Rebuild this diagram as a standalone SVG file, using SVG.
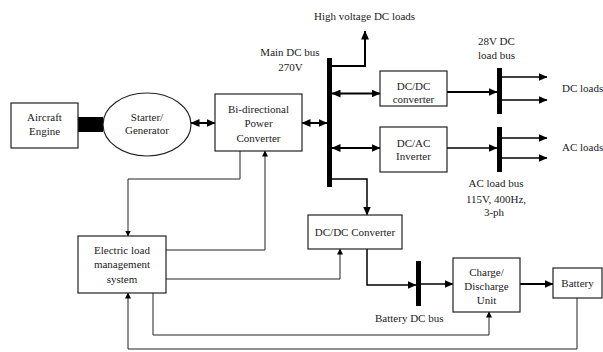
<svg xmlns="http://www.w3.org/2000/svg" width="603" height="352" viewBox="0 0 603 352">
<style>
  .box { fill: #fff; stroke: #222; stroke-width: 1.2; }
  .bus { fill: #000; }
  text { font-family: "Liberation Serif", "Times New Roman", serif; font-size: 11px; fill: #222; }
  .c { text-anchor: middle; }
  .thick { fill: none; stroke: #000; stroke-width: 2; }
  .med { fill: none; stroke: #000; stroke-width: 1.5; }
  .thin { fill: none; stroke: #222; stroke-width: 1; }
</style>
<defs>
  <marker id="ab" markerUnits="userSpaceOnUse" markerWidth="9" markerHeight="8" refX="8.5" refY="4" orient="auto-start-reverse">
    <path d="M0,0 L9,4 L0,8 z" fill="#000"/>
  </marker>
  <marker id="as" markerUnits="userSpaceOnUse" markerWidth="6" markerHeight="6" refX="5.5" refY="3" orient="auto">
    <path d="M0,0 L6,3 L0,6 z" fill="#000"/>
  </marker>
</defs>

<g id="connectors">
  <rect x="78" y="117" width="25" height="15" fill="#000"/>
  <line class="thick" x1="191" y1="123" x2="215" y2="123" marker-start="url(#ab)" marker-end="url(#ab)"/>
  <line class="thick" x1="302" y1="123" x2="327" y2="123" marker-start="url(#ab)" marker-end="url(#ab)"/>
  <line class="thick" x1="332" y1="93.5" x2="380" y2="93.5" marker-start="url(#ab)" marker-end="url(#ab)"/>
  <line class="thick" x1="332" y1="148" x2="380" y2="148" marker-start="url(#ab)" marker-end="url(#ab)"/>
  <path class="thick" d="M332,66 H365 V31" marker-end="url(#ab)"/>
  <line class="thick" x1="447" y1="92" x2="497" y2="92" marker-end="url(#ab)"/>
  <line class="med" x1="447" y1="148" x2="497" y2="148" marker-end="url(#ab)"/>
  <line class="med" x1="502" y1="77" x2="547" y2="77" marker-end="url(#ab)"/>
  <line class="med" x1="502" y1="100" x2="547" y2="100" marker-end="url(#ab)"/>
  <line class="med" x1="502" y1="138" x2="547" y2="138" marker-end="url(#ab)"/>
  <line class="med" x1="502" y1="158" x2="547" y2="158" marker-end="url(#ab)"/>
  <path class="med" d="M332,179 H367 V215" marker-end="url(#ab)"/>
  <path class="med" d="M367,249 V285 H416" marker-end="url(#ab)"/>
  <line class="med" x1="421" y1="284" x2="453" y2="284" marker-end="url(#ab)"/>
  <line class="thick" x1="520" y1="284" x2="553" y2="284" marker-end="url(#ab)"/>
  <path class="thin" d="M240,151 V179 H128 V236" marker-end="url(#as)"/>
  <path class="thin" d="M166,250 H265 V151" marker-end="url(#as)"/>
  <path class="thin" d="M166,279 H340 V249" marker-end="url(#as)"/>
  <path class="thin" d="M153,293 V335 H489 V312" marker-end="url(#as)"/>
  <path class="thin" d="M577,298 V349 H128 V293" marker-end="url(#as)"/>
</g>

<g id="engine">
  <rect class="box" x="11" y="103" width="67" height="45"/>
  <text class="c" x="44.5" y="121">Aircraft</text>
  <text class="c" x="44.5" y="135">Engine</text>
</g>
<g id="starter">
  <ellipse class="box" cx="147" cy="124.5" rx="44" ry="31.5"/>
  <text class="c" x="147" y="121">Starter/</text>
  <text class="c" x="147" y="134">Generator</text>
</g>
<g id="bpc">
  <rect class="box" x="215" y="94" width="87" height="57"/>
  <text class="c" x="258.5" y="113">Bi-directional</text>
  <text class="c" x="258.5" y="127">Power</text>
  <text class="c" x="258.5" y="142">Converter</text>
</g>
<g id="main-bus">
  <rect class="bus" x="327" y="58" width="5" height="129"/>
  <text class="c" x="290" y="55.5">Main DC bus</text>
  <text class="c" x="290.5" y="70.5">270V</text>
</g>
<g id="hv-loads">
  <text x="314" y="20">High voltage DC loads</text>
</g>
<g id="dcdc1">
  <rect class="box" x="380" y="71" width="67" height="35"/>
  <text class="c" x="413.5" y="90">DC/DC</text>
  <text class="c" x="413.5" y="103">converter</text>
</g>
<g id="dcac">
  <rect class="box" x="380" y="127" width="67" height="45"/>
  <text class="c" x="413.5" y="146.5">DC/AC</text>
  <text class="c" x="413.5" y="159.5">Inverter</text>
</g>
<g id="dc-bus-28">
  <rect class="bus" x="497" y="68" width="5" height="46"/>
  <text class="c" x="496.5" y="45">28V DC</text>
  <text class="c" x="496.5" y="59">load bus</text>
</g>
<g id="ac-bus">
  <rect class="bus" x="497" y="127" width="5" height="45"/>
  <text class="c" x="496" y="187">AC load bus</text>
  <text class="c" x="496" y="203">115V, 400Hz,</text>
  <text class="c" x="494" y="215.5">3-ph</text>
</g>
<g id="dc-loads"><text x="562" y="92">DC loads</text></g>
<g id="ac-loads"><text x="562" y="151">AC loads</text></g>
<g id="dcdc2">
  <rect class="box" x="308" y="215" width="94" height="34"/>
  <text class="c" x="355" y="235.5">DC/DC Converter</text>
</g>
<g id="battery-bus">
  <rect class="bus" x="416" y="261" width="5" height="45"/>
  <text x="375" y="321.5">Battery DC bus</text>
</g>
<g id="charge">
  <rect class="box" x="453" y="258" width="67" height="54"/>
  <text class="c" x="486.5" y="276">Charge/</text>
  <text class="c" x="486.5" y="289.5">Discharge</text>
  <text class="c" x="486.5" y="304">Unit</text>
</g>
<g id="battery">
  <rect class="box" x="553" y="268" width="49" height="30"/>
  <text class="c" x="577.5" y="287">Battery</text>
</g>
<g id="elms">
  <rect class="box" x="78" y="236" width="88" height="57"/>
  <text class="c" x="122" y="254">Electric load</text>
  <text class="c" x="122" y="268">management</text>
  <text class="c" x="122" y="283">system</text>
</g>
</svg>
